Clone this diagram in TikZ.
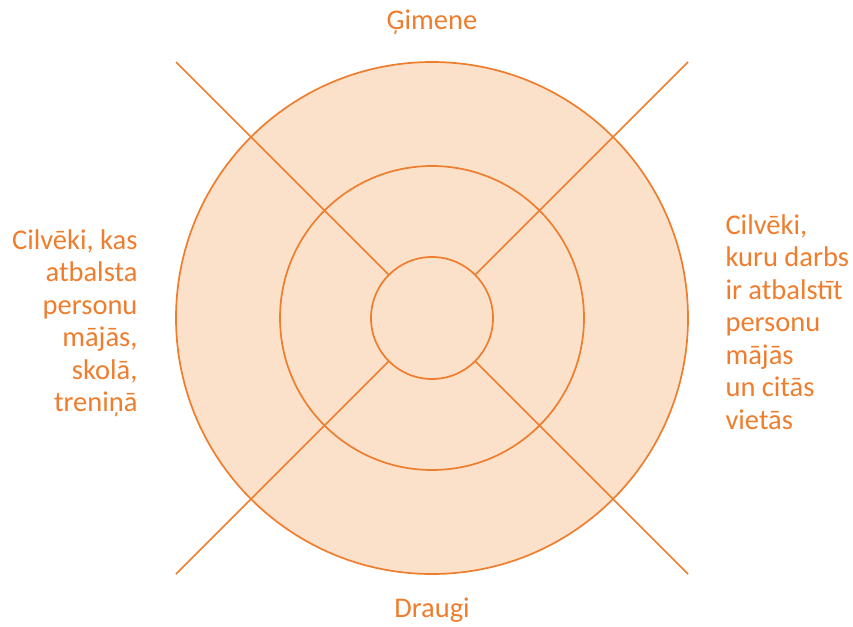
\documentclass[tikz,border=0pt]{standalone}
\usepackage{fontspec}
\setmainfont{Carlito}
\usepackage{xcolor}
\usepackage{tikz}
\usetikzlibrary{positioning}

\definecolor{ringorange}{HTML}{EE7D2E}
\definecolor{ringfill}{HTML}{FCE1CA}

\begin{document}
\begin{tikzpicture}[x=1pt, y=-1pt,
    ring/.style={circle, draw=ringorange, line width=1.7pt, inner sep=0pt},
    spoke/.style={draw=ringorange, line width=1.7pt},
    label/.style={text=ringorange, font=\fontsize{28.5}{32.5}\selectfont}]
  \useasboundingbox (0,0) rectangle (853,626);
  \node[ring, fill=ringfill, minimum size=512pt] (outer) at (432,318) {};
  \node[ring, minimum size=304pt] (middle) at (432,318) {};
  \node[ring, fill=ringfill, minimum size=122pt] (inner) at (432,318) {};
  \coordinate (ne) at (688,62);
  \coordinate (nw) at (176,62);
  \coordinate (sw) at (176,574);
  \coordinate (se) at (688,574);
  \foreach \c/\a in {ne/45,nw/135,sw/225,se/315} {
    \draw[spoke] (\c) -- (inner.\a);
  }
  \node[label] (family) at (432,22) {Ģimene};
  \node[label] (friends) at (432,610) {Draugi};
  \node[label, align=right, anchor=east] (helpers) at (141,323)
    {Cilvēki, kas\\atbalsta\\personu\\mājās,\\skolā,\\treniņā};
  \node[label, align=left, anchor=west] (workers) at (722,322)
    {Cilvēki,\\kuru darbs\\ir atbalstīt\\personu\\mājās\\un citās\\vietās};
\end{tikzpicture}
\end{document}
